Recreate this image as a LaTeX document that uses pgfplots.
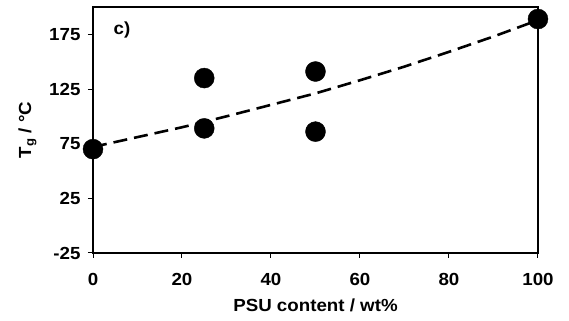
\documentclass[border=0pt]{standalone}
\usepackage{pgfplots}
\pgfplotsset{compat=1.18}
\usepackage{fontspec}
\setmainfont{Liberation Sans}
\newfontfamily\labfont{Liberation Sans}[FakeStretch=1.07]
\newcommand{\lf}{\labfont\bfseries\fontsize{17.5}{20}\selectfont}
\begin{document}
\begin{tikzpicture}
\begin{axis}[
  scale only axis,
  width=445pt, height=246pt,
  xmin=0, xmax=100, ymin=-25, ymax=200,
  xtick={0,20,40,60,80,100},
  ytick={-25,25,75,125,175},
  tick align=outside,
  xtick pos=bottom, ytick pos=left,
  major tick length=5pt,
  axis line style={line width=1.2pt},
  tick style={line width=1pt, black},
  /pgf/number format/assume math mode=true,
  ticklabel style={font=\lf},
  xticklabel style={yshift=-12pt},
  yticklabel style={xshift=-4pt},
  xlabel={PSU content / wt\%},
  ylabel={T\textsubscript{g} / °C},
  label style={font=\lf},
  xlabel style={yshift=-6pt},
  ylabel style={yshift=6pt},
  clip=false,
]
\addplot[black, line width=2.6pt, dash pattern=on 14pt off 7pt] coordinates {
 (0,72) (10,81) (20,90) (30,100) (40,110.5) (50,121) (60,133) (70,145.5) (80,159) (90,173) (100,188)
};
\addplot[only marks, mark=*, mark size=10pt, mark options={fill=black, draw=black}] coordinates {
 (0,70) (25,89) (25,135) (50,86) (50,141) (100,189)
};
\node[font=\lf, anchor=center] at (axis cs:6.5,179) {c)};
\path (axis description cs:-0.209,-0.2764) (axis description cs:1.0697,1.0285);
\end{axis}
\end{tikzpicture}
\end{document}
